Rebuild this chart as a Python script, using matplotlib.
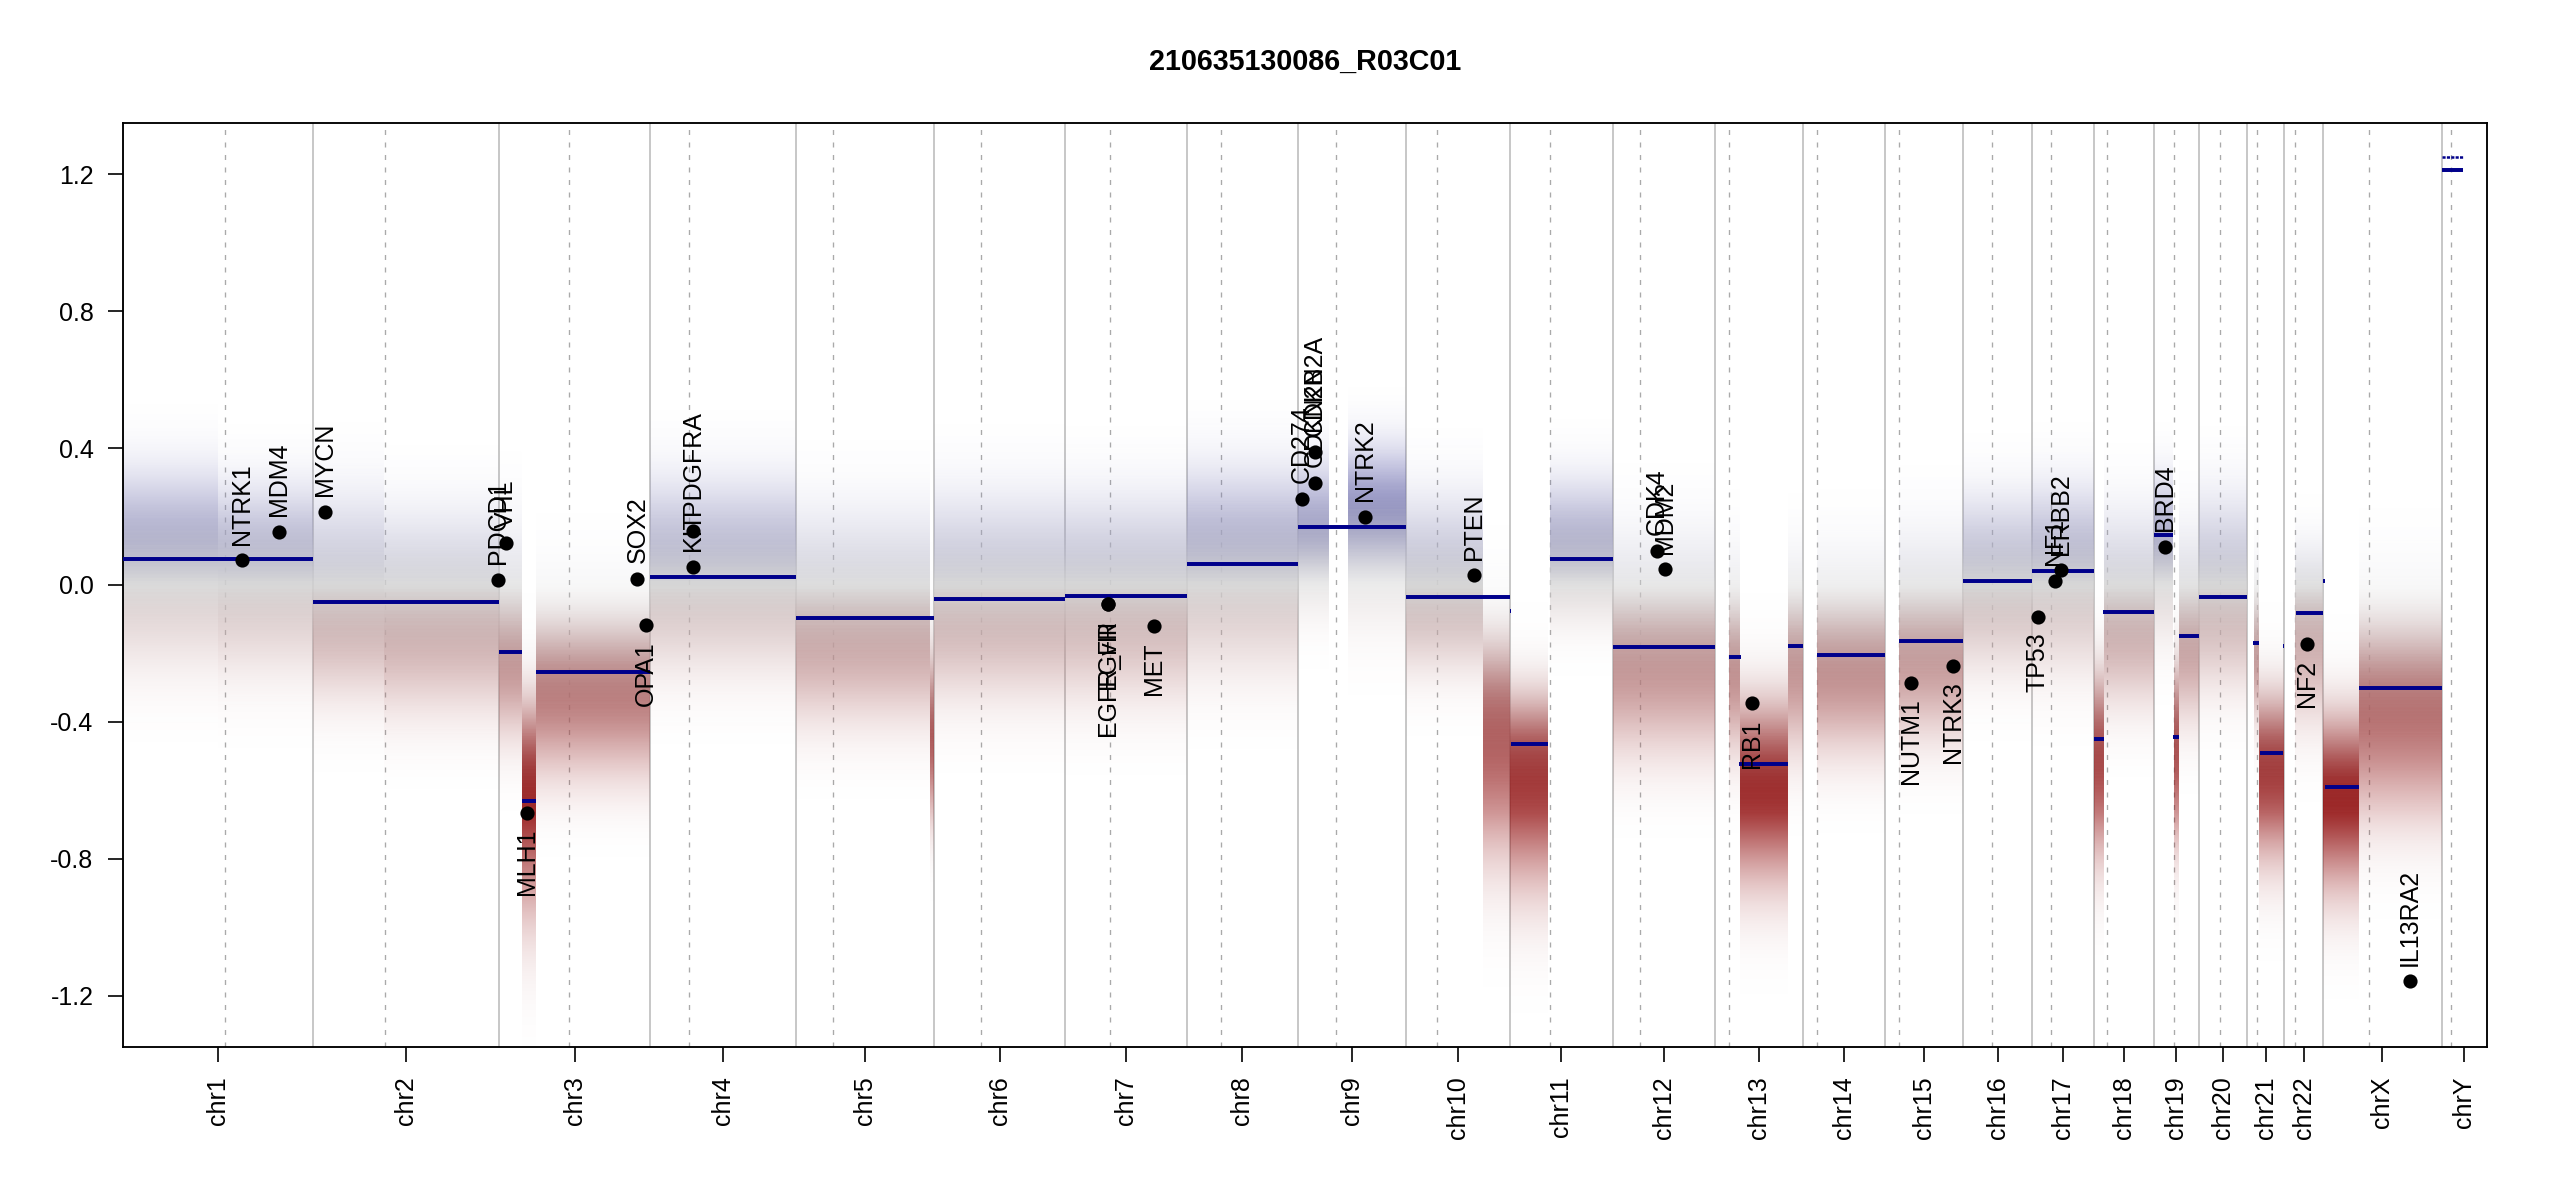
import numpy as np
import matplotlib
matplotlib.use("Agg")
import matplotlib.pyplot as plt
from matplotlib.colors import LinearSegmentedColormap, Normalize

plt.rcParams['font.family'] = ['Liberation Sans', 'DejaVu Sans']
plt.rcParams['lines.scale_dashes'] = False

# ---- chromosomes (Mb) ----
chrom_names = ["chr1", "chr2", "chr3", "chr4", "chr5", "chr6", "chr7", "chr8",
               "chr9", "chr10", "chr11", "chr12", "chr13", "chr14", "chr15",
               "chr16", "chr17", "chr18", "chr19", "chr20", "chr21", "chr22",
               "chrX", "chrY"]
chrom_len = [249.25, 243.20, 198.02, 191.15, 180.92, 171.12, 159.14, 146.36,
             141.21, 135.53, 135.01, 133.85, 115.17, 107.35, 102.53, 90.35,
             81.20, 78.08, 59.13, 63.03, 48.13, 51.30, 155.27, 59.37]
centromere = [133.4, 93.6, 91.8, 51.2, 47.6, 60.6, 59.1, 45.5, 48.9, 40.4,
              53.3, 36.1, 18.0, 17.9, 18.4, 37.3, 25.0, 16.2, 26.2, 28.1,
              12.7, 15.0, 60.1, 12.0]

# ---- segments ----
seg_chrom = ["chr1", "chr2", "chr3", "chr3", "chr3", "chr4", "chr5", "chr6",
             "chr7", "chr8", "chr9", "chr10", "chr11", "chr11", "chr11",
             "chr12", "chr13", "chr13", "chr13", "chr14", "chr15", "chr16",
             "chr17", "chr18", "chr18", "chr19", "chr19", "chr19", "chr20",
             "chr21", "chr21", "chr21", "chr22", "chrX", "chrX", "chrX", "chrY"]
seg_start = [0, 0, 0, 30.5, 48, 0, 0, 0, 0, 0, 0, 0, 0.5, 2, 53.3, 0, 18, 32,
             95, 18.3, 19, 0, 0, 0, 12, 0, 24.7, 32.5, 0, 7.5, 17.3, 46.8,
             15.2, 0, 2.7, 46.5, 0.5]
seg_end = [249.25, 243.2, 30.5, 48, 198.02, 191.15, 180.92, 171.12, 159.14,
           146.36, 141.21, 135.53, 1.5, 50, 135.01, 133.85, 33.5, 96, 115.17,
           107.35, 102.53, 90.35, 81.2, 13, 78.08, 24.5, 32.7, 59.13, 63.03,
           16, 46.6, 48.13, 51.3, 2.7, 46.5, 155.27, 27.5]
seg_value = [0.075, -0.050, -0.196, -0.630, -0.255, 0.024, -0.095, -0.040,
             -0.031, 0.062, 0.170, -0.035, -0.076, -0.465, 0.076, -0.181,
             -0.209, -0.524, -0.179, -0.205, -0.163, 0.011, 0.040, -0.450,
             -0.078, 0.147, -0.445, -0.150, -0.035, -0.169, -0.490, -0.179,
             -0.083, 0.013, -0.590, -0.301, 1.2125]

# chrY bins sitting above the segment
chrY_row = (0.5, 27.5, 1.2515)

# ---- detail genes ----
gene_names = ["NTRK1", "MDM4", "MYCN", "PDCD1", "VHL", "MLH1", "SOX2", "OPA1",
              "KIT", "PDGFRA", "EGFR", "EGFR_vIII", "MET", "CD274", "CDKN2A",
              "CDKN2B", "NTRK2", "PTEN", "CDK4", "MDM2", "RB1", "NUTM1",
              "NTRK3", "TP53", "NF1", "ERBB2", "BRD4", "NF2", "IL13RA2"]
gene_chrom = ["chr1", "chr1", "chr2", "chr2", "chr3", "chr3", "chr3", "chr3",
              "chr4", "chr4", "chr7", "chr7", "chr7", "chr9", "chr9", "chr9",
              "chr9", "chr10", "chr12", "chr12", "chr13", "chr15", "chr15",
              "chr17", "chr17", "chr17", "chr19", "chr22", "chrX"]
gene_pos = [156.2, 203.8, 15.6, 242.0, 9.4, 36.4, 181.2, 192.6, 55.6, 55.6,
            55.6, 55.6, 116.5, 4.6, 21.9, 21.9, 87.2, 89.4, 57.3, 68.7, 48.9,
            34.0, 88.7, 7.4, 29.4, 37.1, 15.1, 29.7, 114.0]
gene_value = [0.072, 0.156, 0.213, 0.016, 0.122, -0.666, 0.018, -0.118,
              0.053, 0.159, -0.055, -0.055, -0.121, 0.251, 0.389, 0.298,
              0.200, 0.028, 0.099, 0.046, -0.346, -0.286, -0.236, -0.093,
              0.013, 0.043, 0.112, -0.172, -1.158]
gene_label_up = [True, True, True, True, True, False, True, False, True, True,
                 False, False, False, True, True, True, True, True, True, True,
                 False, False, False, False, True, True, True, False, True]

# ---- probe cloud, read per region: centre and visible extent ----
cloud_chrom = ["chr1", "chr1", "chr2", "chr2", "chr3", "chr3", "chr3", "chr4",
               "chr5", "chr5", "chr6", "chr7", "chr8", "chr9", "chr9",
               "chr10", "chr10", "chr11", "chr11", "chr12", "chr13", "chr13",
               "chr13", "chr14", "chr15", "chr16", "chr17", "chr18", "chr18",
               "chr19", "chr19", "chr19", "chr20", "chr21", "chr21", "chr22",
               "chrX", "chrX"]
cloud_start = [0, 125, 0, 93, 0, 30, 48, 0, 0, 175, 0, 0, 0, 0, 65, 0, 100,
               0, 53, 0, 18, 33, 95, 18, 19, 0, 0, 0, 13, 0, 26, 33, 0, 9, 16,
               15, 0, 46.5]
cloud_end = [125, 249.25, 93, 243.2, 30, 48, 198.02, 191.15, 175, 180.92,
             171.12, 159.14, 146.36, 40, 141.21, 100, 135.53, 50, 135.01,
             133.85, 33, 95, 115.17, 107.35, 102.53, 90.35, 81.2, 13, 78.08,
             25, 33, 59.13, 63.03, 16, 48.13, 51.3, 46.5, 155.27]
cloud_mid = [0.08, 0.05, -0.05, -0.07, -0.18, -0.55, -0.27, 0.03, -0.10,
             -0.40, -0.04, -0.03, 0.06, 0.13, 0.19, -0.02, -0.35, -0.50, 0.08,
             -0.17, -0.20, -0.55, -0.18, -0.20, -0.16, 0.01, 0.04, -0.45,
             -0.08, 0.10, -0.42, -0.13, -0.03, -0.17, -0.50, -0.08, -0.58,
             -0.30]
cloud_low = [-0.28, -0.30, -0.38, -0.42, -0.50, -1.10, -0.62, -0.30, -0.45,
             -0.75, -0.38, -0.38, -0.30, -0.12, -0.15, -0.30, -0.90, -1.00,
             -0.15, -0.55, -0.55, -0.98, -0.55, -0.55, -0.50, -0.30, -0.30,
             -0.90, -0.40, -0.20, -0.85, -0.45, -0.35, -0.45, -0.90, -0.45,
             -1.00, -0.75]
cloud_high = [0.38, 0.33, 0.30, 0.25, 0.20, -0.20, 0.05, 0.35, 0.25, -0.05,
              0.30, 0.30, 0.38, 0.40, 0.45, 0.30, 0.00, -0.20, 0.35, 0.18,
              0.12, -0.20, 0.12, 0.12, 0.18, 0.30, 0.33, -0.12, 0.25, 0.35,
              -0.10, 0.20, 0.30, 0.10, -0.20, 0.15, -0.25, 0.05]

title = "210635130086_R03C01"
ylim = (-1.35, 1.35)

# ---- layout ----
offsets = np.concatenate([[0.0], np.cumsum(chrom_len)])
total = offsets[-1]
chrom_start = dict(zip(chrom_names, offsets[:-1]))


def gpos(chrom, pos):
    return chrom_start[chrom] + pos


W, H = 2550, 1200
fig = plt.figure(figsize=(17, 8), dpi=150)
ax = fig.add_axes([123 / W, 153 / H, (2487 - 123) / W, (1077 - 153) / H])
ax.set_xlim(0, total)
ax.set_ylim(*ylim)

# chromosome borders and centromeres
ax.vlines(offsets[:-1], *ylim, color="#BEBEBE", lw=0.8, zorder=0.5)
ax.vlines([gpos(c, p) for c, p in zip(chrom_names, centromere)], *ylim,
          color="#AAAAAA", lw=0.65, linestyles=[(0, (2.4, 3.6))], zorder=0.5)

# probe cloud as a density image coloured by copy-number value
cmap = LinearSegmentedColormap.from_list(
    "cn", ["darkred", "darkred", "lightgrey", "darkblue", "darkblue"])
norm = Normalize(*ylim)
ncol, nrow = 2364, 900
xs = (np.arange(ncol) + 0.5) / ncol * total
ys = np.linspace(ylim[0], ylim[1], nrow)
alpha = np.zeros((nrow, ncol))
for c, s, e, m, lo, hi in zip(cloud_chrom, cloud_start, cloud_end,
                              cloud_mid, cloud_low, cloud_high):
    cols = (xs >= gpos(c, s)) & (xs < gpos(c, e))
    sd = np.where(ys < m, (m - lo) / 2.2, (hi - m) / 2.2)
    prof = 0.92 * np.exp(-0.5 * ((ys - m) / sd) ** 2)
    alpha[:, cols] = np.maximum(alpha[:, cols], prof[:, None])
img = np.zeros((nrow, ncol, 4))
img[..., :3] = cmap(norm(ys))[:, None, :3]
img[..., 3] = alpha
ax.imshow(img, extent=[0, total, ylim[0], ylim[1]], origin="lower",
          aspect="auto", interpolation="bilinear", zorder=1)

# segments
ax.hlines(seg_value,
          [gpos(c, s) for c, s in zip(seg_chrom, seg_start)],
          [gpos(c, e) for c, e in zip(seg_chrom, seg_end)],
          color="#00008B", lw=1.9, zorder=3)
ax.hlines(chrY_row[2], gpos("chrY", chrY_row[0]), gpos("chrY", chrY_row[1]),
          color="#00008B", lw=1.2, linestyles=[(0, (1.5, 0.6))], zorder=3)

# genes
gx = [gpos(c, p) for c, p in zip(gene_chrom, gene_pos)]
ax.plot(gx, gene_value, "o", color="black", ms=5.8, zorder=4)
for name, x, y, up in zip(gene_names, gx, gene_value, gene_label_up):
    ax.annotate(name, (x, y), xytext=(0, 7.5 if up else -7.5),
                textcoords="offset points", rotation=90, ha="center",
                va="bottom" if up else "top", fontsize=12, zorder=5)

# axes
ax.set_yticks(np.arange(-1.2, 1.21, 0.4))
ax.set_yticklabels(["%.1f" % v for v in np.arange(-1.2, 1.21, 0.4)])
ax.set_xticks((offsets[:-1] + offsets[1:]) / 2)
ax.set_xticklabels(chrom_names, rotation=90)
ax.tick_params(axis="both", direction="out", length=7.2, width=0.8,
               labelsize=12, pad=7)
for sp in ax.spines.values():
    sp.set_linewidth(0.9)

fig.text(1305 / W, 1 - 62 / H, title, ha="center", va="center",
         fontsize=13.8, fontweight="bold")

fig.savefig("out.png", dpi=150)
